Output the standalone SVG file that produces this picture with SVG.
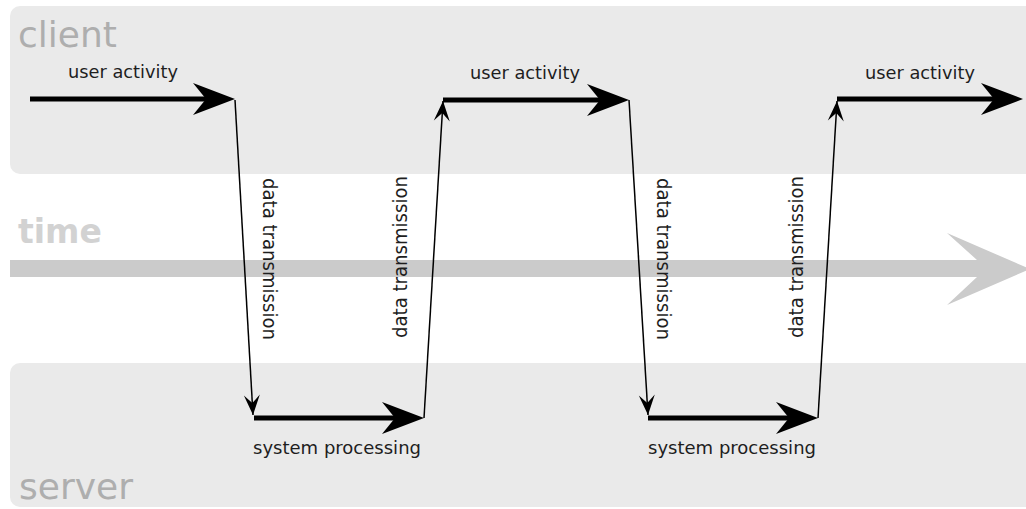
<svg xmlns="http://www.w3.org/2000/svg" width="1026" height="509" viewBox="0 0 1026 509">
<style>
.panel{fill:#eaeaea}
.lane{font-family:"DejaVu Sans",Verdana,sans-serif;font-size:36px;fill:#aeaeae}
.time{font-family:"DejaVu Sans",Verdana,sans-serif;font-size:33px;font-weight:bold;fill:#d2d2d2}
.lbl{font-family:"DejaVu Sans",Verdana,sans-serif;font-size:18px;fill:#1e1e1e}
.vlbl{font-family:"DejaVu Sans",Verdana,sans-serif;font-size:19px;fill:#1e1e1e}
.thick{stroke:#000;stroke-width:5;fill:none;marker-end:url(#big)}
.thin{stroke:#000;stroke-width:1.5;fill:none;marker-end:url(#small)}
</style>
<defs>
<marker id="big" markerUnits="userSpaceOnUse" orient="auto" overflow="visible" markerWidth="1" markerHeight="1" refX="0" refY="0">
<path d="M29,0 L-13,-16 L0,0 L-13,16 Z" fill="#000"/>
</marker>
<marker id="small" markerUnits="userSpaceOnUse" orient="auto" overflow="visible" markerWidth="1" markerHeight="1" refX="0" refY="0">
<path d="M0,0 L-20,-8 L-12,0 L-20,8 Z" fill="#000"/>
</marker>
</defs>
<g id="client">
<rect class="panel" x="10" y="6" width="1040" height="168" rx="10"/>
<text class="lane" x="18" y="47">client</text>
</g>
<g id="server">
<rect class="panel" x="10" y="363" width="1040" height="144" rx="10"/>
<text class="lane" x="19" y="499">server</text>
</g>
<g id="time">
<rect x="10" y="260" width="968" height="17" fill="#cbcbcb"/>
<polygon points="977,260 947,233 1030,269 947,305 977,277" fill="#cbcbcb"/>
<text class="time" x="18" y="243">time</text>
</g>
<g id="connectors">
<path class="thick" d="M30,99 L206,99"/>
<path class="thin" d="M235,100 L253,415"/>
<path class="thick" d="M254,418 L395,418"/>
<path class="thin" d="M424,418 L443,101"/>
<path class="thick" d="M443,100 L600,100"/>
<path class="thin" d="M629,100 L648,415"/>
<path class="thick" d="M648,418 L789,418"/>
<path class="thin" d="M818,418 L837,101"/>
<path class="thick" d="M837,99 L994,99"/>
</g>
<g id="labels">
<text class="lbl" x="68" y="78" textLength="110" lengthAdjust="spacingAndGlyphs">user activity</text>
<text class="lbl" x="470" y="79" textLength="110" lengthAdjust="spacingAndGlyphs">user activity</text>
<text class="lbl" x="865" y="79" textLength="110" lengthAdjust="spacingAndGlyphs">user activity</text>
<text class="lbl" x="253" y="454" textLength="168" lengthAdjust="spacingAndGlyphs">system processing</text>
<text class="lbl" x="648" y="454" textLength="168" lengthAdjust="spacingAndGlyphs">system processing</text>
<text class="vlbl" transform="translate(263,178) rotate(90)" textLength="162" lengthAdjust="spacingAndGlyphs">data transmission</text>
<text class="vlbl" transform="translate(407,338) rotate(-90)" textLength="162" lengthAdjust="spacingAndGlyphs">data transmission</text>
<text class="vlbl" transform="translate(657,178) rotate(90)" textLength="162" lengthAdjust="spacingAndGlyphs">data transmission</text>
<text class="vlbl" transform="translate(803,338) rotate(-90)" textLength="162" lengthAdjust="spacingAndGlyphs">data transmission</text>
</g>
</svg>
